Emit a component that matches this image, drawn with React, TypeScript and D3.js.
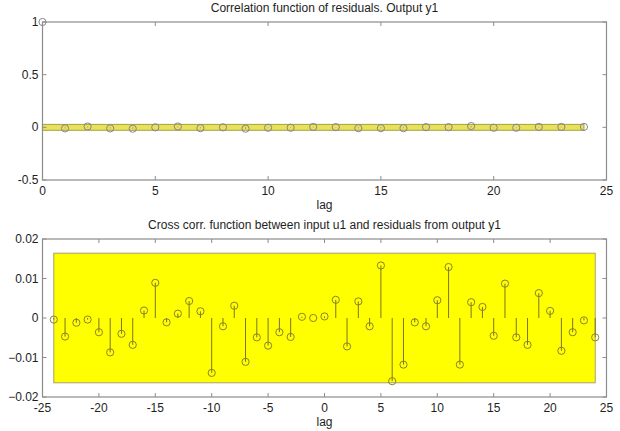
import React from "react";
import * as d3 from "d3";

// Autocorrelation of residuals, lags 0..24
const autoLags = d3.range(0, 25);
const autoValues = [
  1, -0.01, 0.008, -0.01, -0.013, 0, 0.008, -0.008, 0, -0.013, -0.004, -0.004,
  0.004, 0.002, -0.008, -0.008, -0.008, 0.002, 0.002, 0.012, -0.004, -0.004,
  0.004, 0.004, 0.004,
];
const autoConf = 0.028;

// Cross correlation between input u1 and residuals, lags -24..24
const crossLags = d3.range(-24, 25);
const crossValues = [
  -0.0004, -0.0047, -0.0012, -0.0004, -0.0036, -0.0087, -0.004, -0.0068,
  0.0019, 0.0089, -0.0011, 0.0011, 0.0043, 0.0017, -0.0139, -0.0021, 0.0031,
  -0.0111, -0.0049, -0.007, -0.0036, -0.0048, 0.0003, 0.0, 0.0004, 0.0046,
  -0.0072, 0.0042, -0.0021, 0.0133, -0.016, -0.0118, -0.0011, -0.0021, 0.0045,
  0.0129, -0.0118, 0.004, 0.0028, -0.0045, 0.0087, -0.0049, -0.0068, 0.0063,
  0.0018, -0.0083, -0.0036, -0.0006, -0.0049,
];
const crossConf = 0.0164;

const autoXTicks = [0, 5, 10, 15, 20, 25];
const autoYTicks = [-0.5, 0, 0.5, 1];
const crossXTicks = [-25, -20, -15, -10, -5, 0, 5, 10, 15, 20, 25];
const crossYTicks = [-0.02, -0.01, 0, 0.01, 0.02];

const titleTop = "Correlation function of residuals. Output y1";
const titleBottom = "Cross corr. function between input u1 and residuals from output y1";
const xLabel = "lag";

const FONT = "'Liberation Sans', Arial, sans-serif";
const TEXT = "#1e1e1e";
const AXIS = "#8c8c8c";

type PanelProps = {
  top: number;
  bottom: number;
  left: number;
  right: number;
  xDomain: [number, number];
  yDomain: [number, number];
  xTicks: number[];
  yTicks: number[];
  lags: number[];
  values: number[];
  conf: number;
  confRange: [number, number];
  title: string;
  bandFill: string;
  bandStroke: string;
  markerStroke: string;
  stemStroke: string;
  yFormat: (v: number) => string;
};

function Panel(p: PanelProps) {
  const x = d3.scaleLinear().domain(p.xDomain).range([p.left, p.right]);
  const y = d3.scaleLinear().domain(p.yDomain).range([p.bottom, p.top]);
  const tl = 4;
  const cx = (p.left + p.right) / 2;
  const bandX0 = x(p.confRange[0]);
  const bandX1 = x(p.confRange[1]);
  return (
    <g>
      <text x={cx} y={p.top - 10} textAnchor="middle" fontFamily={FONT} fontSize={12} fill={TEXT}>
        {p.title}
      </text>
      <rect
        x={bandX0}
        y={y(p.conf)}
        width={bandX1 - bandX0}
        height={y(-p.conf) - y(p.conf)}
        fill={p.bandFill}
        stroke={p.bandStroke}
        strokeWidth={1}
      />
      {p.lags.map((lag, i) => (
        <line key={"s" + lag} x1={x(lag)} x2={x(lag)} y1={y(0)} y2={y(p.values[i])} stroke={p.stemStroke} strokeWidth={1} />
      ))}
      {/* axis box, drawn over the stems */}
      <rect x={p.left} y={p.top} width={p.right - p.left} height={p.bottom - p.top} fill="none" stroke={AXIS} strokeWidth={1.2} />
      {p.xTicks.map((t) => (
        <g key={"x" + t}>
          <line x1={x(t)} x2={x(t)} y1={p.bottom} y2={p.bottom - tl} stroke={AXIS} />
          <line x1={x(t)} x2={x(t)} y1={p.top} y2={p.top + tl} stroke={AXIS} />
          <text x={x(t)} y={p.bottom + 15} textAnchor="middle" fontFamily={FONT} fontSize={12} fill={TEXT}>
            {String(t)}
          </text>
        </g>
      ))}
      {p.yTicks.map((t) => (
        <g key={"y" + t}>
          <line x1={p.left} x2={p.left + tl} y1={y(t)} y2={y(t)} stroke={AXIS} />
          <line x1={p.right} x2={p.right - tl} y1={y(t)} y2={y(t)} stroke={AXIS} />
          <text x={p.left - 4} y={y(t) + 4} textAnchor="end" fontFamily={FONT} fontSize={12} fill={TEXT}>
            {p.yFormat(t)}
          </text>
        </g>
      ))}
      {p.lags.map((lag, i) => (
        <circle key={"c" + lag} cx={x(lag)} cy={y(p.values[i])} r={3.6} fill="none" stroke={p.markerStroke} strokeWidth={1} />
      ))}
      <text x={cx} y={p.bottom + 29} textAnchor="middle" fontFamily={FONT} fontSize={12} fill={TEXT}>
        {xLabel}
      </text>
    </g>
  );
}

export default function App() {
  return (
    <svg width={620} height={431} style={{ position: "absolute", left: 0, top: 0, background: "#fff" }}>
      <rect width={620} height={431} fill="#fff" />
      <Panel
        top={22}
        bottom={180}
        left={42.5}
        right={606.5}
        xDomain={[0, 25]}
        yDomain={[-0.5, 1]}
        xTicks={autoXTicks}
        yTicks={autoYTicks}
        lags={autoLags}
        values={autoValues}
        conf={autoConf}
        confRange={[0, 24]}
        title={titleTop}
        bandFill="#e8e25a"
        bandStroke="#a8a040"
        markerStroke="#858590"
        stemStroke="#9a9460"
        yFormat={(v) => String(v)}
      />
      <Panel
        top={239}
        bottom={397}
        left={42.5}
        right={606.5}
        xDomain={[-25, 25]}
        yDomain={[-0.02, 0.02]}
        xTicks={crossXTicks}
        yTicks={crossYTicks}
        lags={crossLags}
        values={crossValues}
        conf={crossConf}
        confRange={[-24, 24]}
        title={titleBottom}
        bandFill="#ffff00"
        bandStroke="#a8a070"
        markerStroke="#8a8230"
        stemStroke="#7a7425"
        yFormat={(v) => (v === 0 ? "0" : d3.format(".2f")(v))}
      />
    </svg>
  );
}
